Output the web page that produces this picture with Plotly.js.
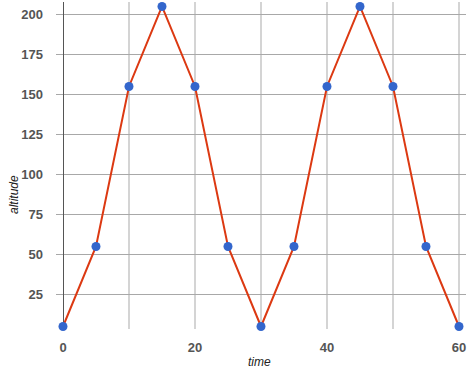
<!DOCTYPE html>
<html><head><meta charset="utf-8">
<script src="https://cdn.plot.ly/plotly-3.0.1.min.js"></script>
<style>html,body{margin:0;padding:0;background:#fff}#chart{width:470px;height:376px}</style>
</head><body><div id="chart"></div>
<script>
const time = [0,5,10,15,20,25,30,35,40,45,50,55,60];
const altitude = [5,55,155,205,155,55,5,55,155,205,155,55,5];
const xTickVals = [0,10,20,30,40,50,60];
const xTickText = ['0','','20','','40','','60'];
const yTickVals = [25,50,75,100,125,150,175,200];
const xTitle = 'time';
const yTitle = 'altitude';

const data = [{
  x: time, y: altitude, type: 'scatter', mode: 'lines+markers',
  line: {color: '#dc3912', width: 2},
  marker: {color: '#3366cc', size: 9},
  cliponaxis: false, hoverinfo: 'none'
}];
const font = {family: 'Liberation Sans, Arial, sans-serif', size: 13, color: '#555', weight: 'bold'};
const titleFont = {family: 'Liberation Sans, Arial, sans-serif', size: 12, color: '#222', style: 'italic'};
const layout = {
  width: 470, height: 376,
  margin: {l: 56, r: 4, t: 2, b: 47},
  paper_bgcolor: '#fff', plot_bgcolor: '#fff',
  showlegend: false,
  xaxis: {
    range: [-1.06, 61.06], tickvals: xTickVals, ticktext: xTickText,
    showgrid: true, gridcolor: '#d4d4d4', gridwidth: 2,
    zeroline: true, zerolinecolor: '#555', zerolinewidth: 1,
    showline: false, ticks: '', tickfont: font, ticklabelstandoff: 9
  },
  yaxis: {
    range: [3.44, 207.8], tickvals: yTickVals,
    showgrid: true, gridcolor: '#a8a8a8', gridwidth: 1,
    zeroline: false, showline: false, ticks: '', tickfont: font, ticklabelstandoff: 12
  },
  annotations: [
    {text: xTitle, xref: 'paper', yref: 'paper', x: (259 - 56) / 410, y: (376 - 362 - 47) / 327,
     xanchor: 'center', yanchor: 'middle', showarrow: false, font: titleFont},
    {text: yTitle, xref: 'paper', yref: 'paper', x: (14 - 56) / 410, y: (376 - 47 - 195) / 327,
     xanchor: 'center', yanchor: 'middle', textangle: -90, showarrow: false, font: titleFont}
  ]
};
Plotly.newPlot('chart', data, layout, {displayModeBar: false, staticPlot: true});
</script></body></html>
